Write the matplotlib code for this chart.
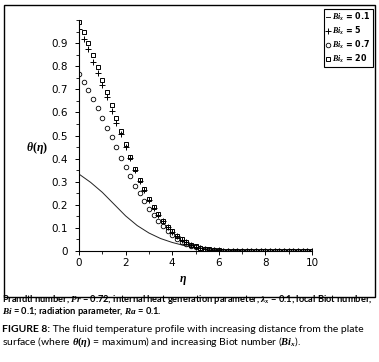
import matplotlib
matplotlib.use('Agg')
import matplotlib.pyplot as plt
from matplotlib.patches import Rectangle
from matplotlib.ticker import MultipleLocator
import numpy as np

# italic symbols in serif bold-italic, like the original figure
plt.rcParams['mathtext.fontset'] = 'custom'
plt.rcParams['mathtext.it'] = 'Liberation Serif:italic:bold'
plt.rcParams['mathtext.rm'] = 'Liberation Serif:bold'
plt.rcParams['mathtext.bf'] = 'Liberation Serif:bold'

# eta grid of the marker series (step 0.2)
eta_pts = np.round(np.arange(0, 10.01, 0.2), 1)

theta_bi20 = [0.99, 0.946, 0.899, 0.849, 0.797, 0.742, 0.687, 0.632, 0.574, 0.519,
              0.464, 0.407, 0.356, 0.309, 0.268, 0.226, 0.19, 0.16, 0.13, 0.105,
              0.085, 0.065, 0.05, 0.038, 0.028, 0.02, 0.014, 0.01, 0.007, 0.005,
              0.003, 0.002, 0.001] + [0.0] * 18
theta_bi5 = [0.96, 0.917, 0.874, 0.82, 0.771, 0.719, 0.667, 0.607, 0.553, 0.506,
             0.45, 0.401, 0.349, 0.303, 0.262, 0.222, 0.186, 0.156, 0.128, 0.103,
             0.083, 0.064, 0.049, 0.037, 0.027, 0.019, 0.013, 0.009, 0.006, 0.004,
             0.003, 0.002, 0.001] + [0.0] * 18
theta_bi07 = [0.765, 0.732, 0.696, 0.658, 0.62, 0.577, 0.532, 0.493, 0.449, 0.404,
              0.365, 0.323, 0.283, 0.25, 0.215, 0.182, 0.154, 0.129, 0.107, 0.087,
              0.068, 0.052, 0.04, 0.03, 0.022, 0.016, 0.011, 0.008, 0.005, 0.003,
              0.002, 0.001] + [0.0] * 19

# solid curve Bi_x = 0.1
eta_line = [0, 0.5, 1.0, 1.5, 2.0, 2.5, 3.0, 3.5, 4.0, 4.5, 5.0, 5.5, 6.0, 6.5,
            7.0, 7.5, 8.0, 9.0, 10.0]
theta_bi01 = [0.333, 0.297, 0.254, 0.203, 0.152, 0.110, 0.078, 0.054, 0.037,
              0.024, 0.015, 0.009, 0.005, 0.003, 0.001, 0.0, 0.0, 0.0, 0.0]

W, H = 379, 362
fig = plt.figure(figsize=(W / 100, H / 100), dpi=100)
ax = fig.add_axes([79 / W, 1 - 251 / H, 233 / W, 231 / H])

l1, = ax.plot(eta_line, theta_bi01, '-', color='#222222', lw=0.7)
l2, = ax.plot(eta_pts, theta_bi5, '+', color='black', ms=4, mew=0.7)
l3, = ax.plot(eta_pts, theta_bi07, 'o', color='black', mfc='none', ms=3.3, mew=0.6)
l4, = ax.plot(eta_pts, theta_bi20, 's', color='black', mfc='none', ms=3.2, mew=0.7)

ax.set_xlim(0, 10)
ax.set_ylim(0, 1.0)
for s in ['top', 'right']:
    ax.spines[s].set_visible(False)
for s in ['left', 'bottom']:
    ax.spines[s].set_linewidth(0.8)

ax.xaxis.set_major_locator(MultipleLocator(2))
ax.xaxis.set_minor_locator(MultipleLocator(1))
ax.set_yticks(np.round(np.arange(0, 0.95, 0.1), 1))
ax.set_yticklabels(['0'] + ['%.1f' % v for v in np.arange(0.1, 0.95, 0.1)])
ax.yaxis.set_minor_locator(MultipleLocator(0.05))
ax.tick_params(which='major', length=3, width=0.7, labelsize=7.5)
ax.tick_params(axis='y', which='major', pad=5)
ax.tick_params(axis='x', which='major', pad=2)
ax.tick_params(which='minor', length=2, width=0.6)

ax.set_ylabel(r'$\theta(\eta)$', rotation=0, fontsize=8.5, va='center', ha='center')
ax.yaxis.set_label_coords(-0.182, 0.446)
ax.set_xlabel(r'$\eta$', fontsize=8.5, va='center')
ax.xaxis.set_label_coords(0.446, -0.126)

leg = fig.legend([l1, l2, l3, l4],
                 [r'$Bi_x$ = 0.1', r'$Bi_x$ = 5', r'$Bi_x$ = 0.7', r'$Bi_x$ = 20'],
                 loc='upper right', bbox_to_anchor=(373 / W, 1 - 9 / H),
                 borderaxespad=0, borderpad=0.25, fancybox=False, framealpha=1,
                 edgecolor='black', handlelength=0.5, handletextpad=0.25,
                 labelspacing=0.2, prop={'size': 5.8, 'weight': 'bold'})
leg.get_frame().set_linewidth(0.8)

# outer frame around the chart
fig.add_artist(Rectangle((4 / W, 1 - 297 / H), 371 / W, 292 / H, fill=False,
                         lw=1.0, ec='black', transform=fig.transFigure))

cap = {'family': 'Lato', 'color': 'black'}
fig.text(2 / W, 1 - 300 / H,
         r'Prandtl number, $Pr$ = 0.72; internal heat generation parameter, $\lambda_x$ = 0.1; local Biot number,',
         fontsize=6.7, weight='bold', va='center', ha='left', **cap)
fig.text(2 / W, 1 - 312 / H, r'$Bi$ = 0.1; radiation parameter, $Ra$ = 0.1.',
         fontsize=6.7, weight='bold', va='center', ha='left', **cap)

t1 = fig.text(2 / W, 1 - 329.5 / H, 'FIGURE 8:', fontsize=7.5, weight='bold',
              va='center', ha='left', **cap)
ax.annotate(' The fluid temperature profile with increasing distance from the plate',
            xy=(1, 0), xycoords=t1, va='bottom', ha='left', fontsize=7.5,
            annotation_clip=False, **cap)
fig.text(2 / W, 1 - 342.5 / H,
         r'surface (where $\theta(\eta)$ = maximum) and increasing Biot number ($Bi_x$).',
         fontsize=7.5, va='center', ha='left', **cap)

fig.savefig('out.png', dpi=100)
